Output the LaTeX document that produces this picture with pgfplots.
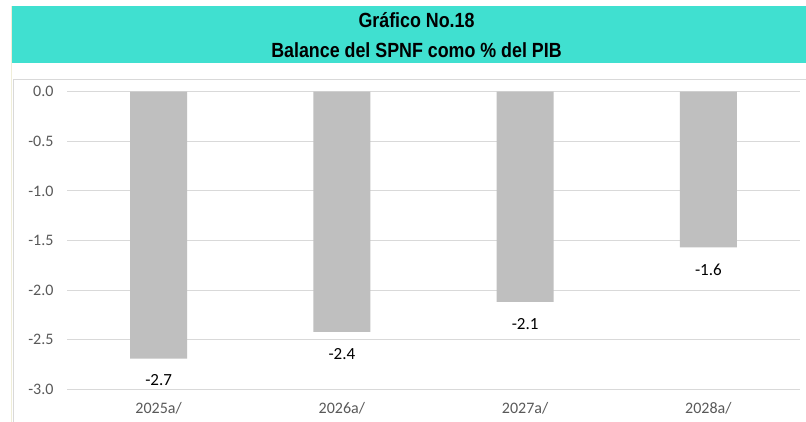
\documentclass[border=0pt]{standalone}
\usepackage{fontspec}
\setmainfont{Carlito}
\newfontfamily\titlefont[FakeStretch=0.87]{Liberation Sans}
\usepackage{pgfplots}
\pgfplotsset{compat=1.18}
\definecolor{band}{HTML}{40E0D0}
\definecolor{barc}{HTML}{BFBFBF}
\definecolor{gridc}{HTML}{D9D9D9}
\definecolor{tickc}{HTML}{595959}
\definecolor{edgec}{HTML}{F0EED8}
\begin{document}
\begin{tikzpicture}[x=1pt,y=1pt]
\path[use as bounding box] (0,0) rectangle (806,422);
\fill[white] (0,0) rectangle (806,422);
% chart border lines
\draw[edgec, line width=0.8pt] (11,0) -- (11,416);
\draw[gridc, line width=1pt] (13,0) -- (13,342) -- (806,342);
% title band
\fill[band] (11.7,359.3) rectangle (806,416);
\node[anchor=base, inner sep=0pt] at (416.5,394.3) {\titlefont\fontsize{20.5}{24}\selectfont\bfseries Gráfico No.18};
\node[anchor=base, inner sep=0pt] at (416.5,364.7) {\titlefont\fontsize{20.5}{24}\selectfont\bfseries Balance del SPNF como \% del PIB};
\begin{axis}[
  at={(67pt,32.7pt)}, anchor=south west,
  scale only axis, width=733pt, height=297.6pt,
  xmin=-0.5, xmax=3.5, ymin=-3, ymax=0,
  axis line style={draw=none},
  major tick length=0pt,
  ymajorgrids, grid style={gridc, line width=1pt},
  ytick={-3,-2.5,-2,-1.5,-1,-0.5,0},
  yticklabels={-3.0,-2.5,-2.0,-1.5,-1.0,-0.5,0.0},
  xtick={0,1,2,3},
  xticklabels={2025a/,2026a/,2027a/,2028a/},
  tick label style={font=\fontsize{16}{19}\selectfont, text=tickc},
  yticklabel style={xshift=-10pt},
  xticklabel style={yshift=-10pt},
  clip=false,
]
\addplot[ybar, bar width=57pt, fill=barc, draw=none,
  point meta=explicit symbolic,
  nodes near coords,
  nodes near coords style={anchor=center, yshift=-22pt, font=\fontsize{17}{20}\selectfont, text=black},
] coordinates {
  (0,-2.69) [-2.7]
  (1,-2.42) [-2.4]
  (2,-2.12) [-2.1]
  (3,-1.57) [-1.6]
};
\end{axis}
\end{tikzpicture}
\end{document}
